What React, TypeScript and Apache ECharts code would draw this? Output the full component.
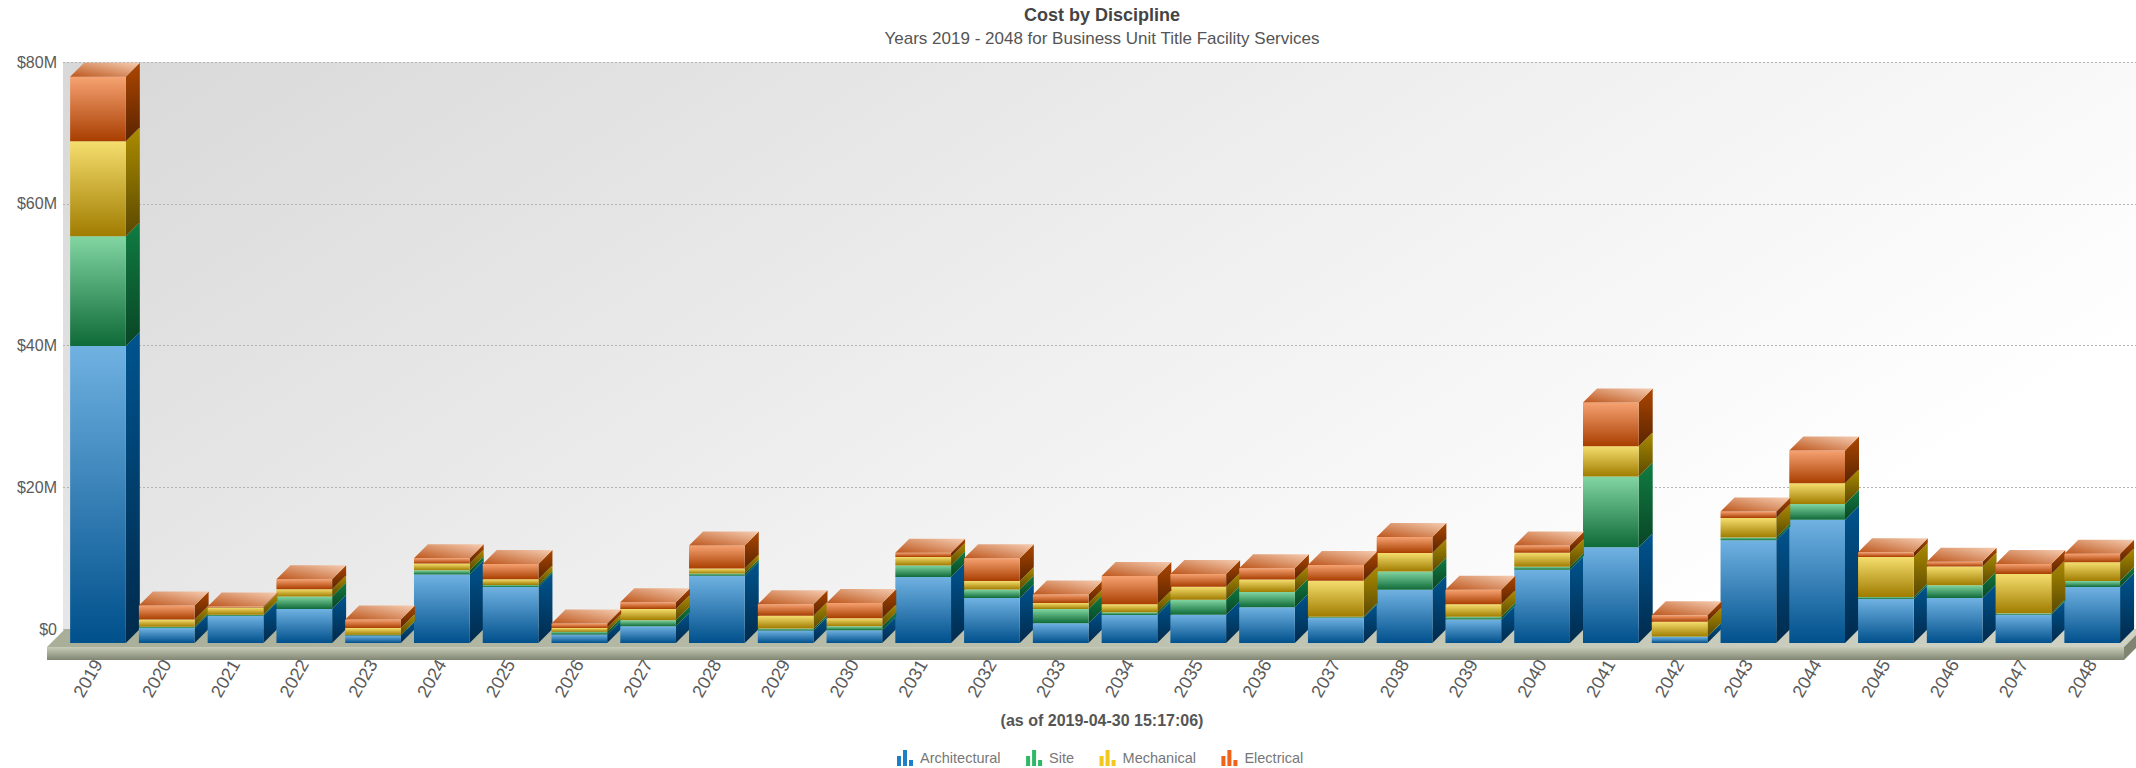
import React, { useEffect, useRef } from "react";
import * as echarts from "echarts";

// Fiscal years on the category axis
const years = [
  "2019", "2020", "2021", "2022", "2023", "2024", "2025", "2026", "2027", "2028",
  "2029", "2030", "2031", "2032", "2033", "2034", "2035", "2036", "2037", "2038",
  "2039", "2040", "2041", "2042", "2043", "2044", "2045", "2046", "2047", "2048",
];

// Cost per discipline, in millions of dollars
const architectural = [
  41.9, 2.1, 3.8, 4.8, 1.05, 9.65, 7.9, 1.2, 2.35, 9.5,
  1.75, 1.8, 9.3, 6.35, 2.8, 3.95, 4.0, 5.05, 3.55, 7.5,
  3.3, 10.35, 13.5, 0.85, 14.5, 17.4, 6.2, 6.35, 4.0, 7.9,
];
const site = [
  15.5, 0.2, 0.2, 1.75, 0.1, 0.6, 0.3, 0.4, 0.85, 0.3,
  0.3, 0.55, 1.65, 1.2, 2.0, 0.4, 2.1, 2.15, 0.15, 2.6,
  0.4, 0.4, 10.0, 0.05, 0.4, 2.2, 0.3, 1.8, 0.2, 0.85,
];
const mechanical = [
  13.4, 1.0, 1.0, 1.05, 0.95, 0.95, 0.8, 0.5, 1.6, 0.7,
  1.8, 1.15, 1.2, 1.2, 0.85, 1.1, 1.85, 1.75, 5.1, 2.6,
  1.75, 2.0, 4.25, 2.1, 2.75, 2.95, 5.65, 2.65, 5.55, 2.65,
];
const electrical = [
  9.1, 2.0, 0.15, 1.4, 1.2, 0.75, 2.15, 0.65, 0.95, 3.25,
  1.6, 2.15, 0.6, 3.2, 1.2, 4.0, 1.8, 1.6, 2.2, 2.25,
  2.05, 1.0, 6.2, 0.9, 0.9, 4.6, 0.65, 0.65, 1.4, 1.2,
];

const disciplineNames = ["Architectural", "Site", "Mechanical", "Electrical"];
const disciplineValues = [architectural, site, mechanical, electrical];

// Legend swatch colour, then gradient stops of the front and side faces
const palette = [
  { swatch: "#1f7fc4", front: ["#70b2e2", "#00508c"], side: ["#00548f", "#002a4c"] },
  { swatch: "#2fb868", front: ["#82d6a2", "#0e6a38"], side: ["#107c42", "#094525"] },
  { swatch: "#f2c81e", front: ["#f5de6e", "#a07c00"], side: ["#ac8c00", "#5a4800"] },
  { swatch: "#f0631a", front: ["#f6a272", "#a83e00"], side: ["#ac4600", "#5a2400"] },
];

const DEPTH = 14;
const barIcon = "path://M0 6h4v10H0zM6 0h4v16H6zM12 10h4v6h-4z";

const vertical = (stops: string[]) => ({
  type: "linear", x: 0, y: 0, x2: 0, y2: 1,
  colorStops: [{ offset: 0, color: stops[0] }, { offset: 1, color: stops[1] }],
});

// Draws one stacked segment as an extruded box; the last discipline gets the lid.
const boxRenderer = (seriesIdx: number) => (params: any, api: any) => {
  const cat = api.value(0);
  const [cx, yLow] = api.coord([cat, api.value(1)]);
  const [, yHigh] = api.coord([cat, api.value(2)]);
  const half = (api.size([1, 0])[0] * 0.81) / 2;
  const l = cx - half;
  const r = cx + half;
  const colors = palette[seriesIdx];
  const children: any[] = [
    {
      type: "polygon",
      shape: { points: [[r, yHigh], [r + DEPTH, yHigh - DEPTH], [r + DEPTH, yLow - DEPTH], [r, yLow]] },
      style: { fill: vertical(colors.side) },
    },
    {
      type: "polygon",
      shape: { points: [[l, yHigh], [r, yHigh], [r, yLow], [l, yLow]] },
      style: { fill: vertical(colors.front) },
    },
  ];
  if (seriesIdx === disciplineNames.length - 1) {
    children.push({
      type: "polygon",
      shape: { points: [[l, yHigh], [l + DEPTH, yHigh - DEPTH], [r + DEPTH, yHigh - DEPTH], [r, yHigh]] },
      style: {
        fill: {
          type: "linear", x: 0, y: 1, x2: 1, y2: 0,
          colorStops: [{ offset: 0, color: "#bd561c" }, { offset: 1, color: "#f6cdb2" }],
        },
      },
    });
  }
  return { type: "group", children };
};

const stackedSegments = (seriesIdx: number) =>
  years.map((_, i) => {
    let start = 0;
    for (let s = 0; s < seriesIdx; s++) start += disciplineValues[s][i];
    return [i, start, start + disciplineValues[seriesIdx][i]];
  });

export default function App() {
  const ref = useRef<HTMLDivElement>(null);

  useEffect(() => {
    if (!ref.current) return;
    const chart = echarts.init(ref.current, undefined, { renderer: "svg" });
    const font = "'Liberation Sans', Arial, sans-serif";
    chart.setOption({
      animation: false,
      backgroundColor: "#ffffff",
      textStyle: { fontFamily: font },
      title: [
        {
          text: "Cost by Discipline",
          subtext: "Years 2019 - 2048 for Business Unit Title Facility Services",
          left: 1102,
          top: 5,
          textAlign: "center",
          itemGap: 4,
          padding: 0,
          textStyle: { fontFamily: font, fontSize: 18, fontWeight: "bold", color: "#444444", lineHeight: 20 },
          subtextStyle: { fontFamily: font, fontSize: 17, color: "#555555", lineHeight: 18 },
        },
        {
          text: "(as of 2019-04-30 15:17:06)",
          left: 1102,
          top: 712,
          textAlign: "center",
          padding: 0,
          textStyle: { fontFamily: font, fontSize: 16, fontWeight: "bold", color: "#555555", lineHeight: 17 },
        },
      ],
      legend: {
        data: disciplineNames,
        left: 897,
        top: 750,
        padding: 0,
        icon: barIcon,
        itemWidth: 16,
        itemHeight: 16,
        itemGap: 25.5,
        textStyle: { fontFamily: font, fontSize: 14.5, color: "#777777", padding: [0, 0, 0, 2] },
      },
      grid: [
        // Back wall of the scene, carrying the value scale and dotted rules
        {
          left: 63,
          top: 62,
          width: 2073,
          height: 567,
          show: true,
          borderWidth: 0,
          backgroundColor: {
            type: "linear", global: true, x: 63, y: 62, x2: 921, y2: 1405,
            colorStops: [
              { offset: 0, color: "#d8d8d8" },
              { offset: 0.5, color: "#f0f0f0" },
              { offset: 0.85, color: "#ffffff" },
              { offset: 1, color: "#ffffff" },
            ],
          },
        },
        // Front plane, where the faces of the boxes stand
        { left: 63.6, top: 76, width: 2063, height: 567 },
      ],
      xAxis: [
        { gridIndex: 0, type: "value", min: 0, max: 1, show: false },
        {
          gridIndex: 1,
          type: "category",
          data: years,
          axisLine: { show: false },
          axisTick: { show: false },
          axisLabel: {
            rotate: 60,
            margin: 18,
            interval: 0,
            fontFamily: font,
            fontSize: 18,
            color: "#5a5a5a",
          },
        },
      ],
      yAxis: [
        {
          gridIndex: 0,
          type: "value",
          min: 0,
          max: 80,
          interval: 20,
          axisLine: { show: false },
          axisTick: { show: false },
          splitLine: { lineStyle: { color: "#b4b4b4", type: [2, 2], width: 1 } },
          axisLabel: {
            margin: 6,
            fontFamily: font,
            fontSize: 16,
            color: "#5a5a5a",
            formatter: (v: number) => (v === 0 ? "$0" : `$${v}M`),
          },
        },
        { gridIndex: 1, type: "value", min: 0, max: 80, show: false },
      ],
      // Platform under the boxes: top, front and right faces
      graphic: [
        {
          type: "polygon",
          z: 1,
          shape: { points: [[47, 647], [65, 629], [2136, 629], [2136, 635], [2124, 647]] },
          style: {
            fill: {
              type: "linear", x: 0, y: 0, x2: 1, y2: 0,
              colorStops: [{ offset: 0, color: "#a8ae98" }, { offset: 1, color: "#d0d3c4" }],
            },
          },
        },
        {
          type: "rect",
          z: 1,
          shape: { x: 47, y: 647, width: 2077, height: 13 },
          style: {
            fill: {
              type: "linear", x: 0, y: 0, x2: 0, y2: 1,
              colorStops: [{ offset: 0, color: "#c8ccba" }, { offset: 1, color: "#7f8570" }],
            },
          },
        },
        {
          type: "polygon",
          z: 1,
          shape: { points: [[2124, 647], [2136, 635], [2136, 648], [2124, 660]] },
          style: { fill: "#7f8570" },
        },
      ],
      series: disciplineNames.map((name, idx) => ({
        name,
        type: "custom",
        xAxisIndex: 1,
        yAxisIndex: 1,
        z: 3,
        clip: false,
        itemStyle: { color: palette[idx].swatch },
        encode: { x: 0, y: [1, 2] },
        data: stackedSegments(idx),
        renderItem: boxRenderer(idx),
      })),
    });
    return () => chart.dispose();
  }, []);

  return <div ref={ref} style={{ position: "fixed", left: 0, top: 0, width: 2136, height: 768 }} />;
}
